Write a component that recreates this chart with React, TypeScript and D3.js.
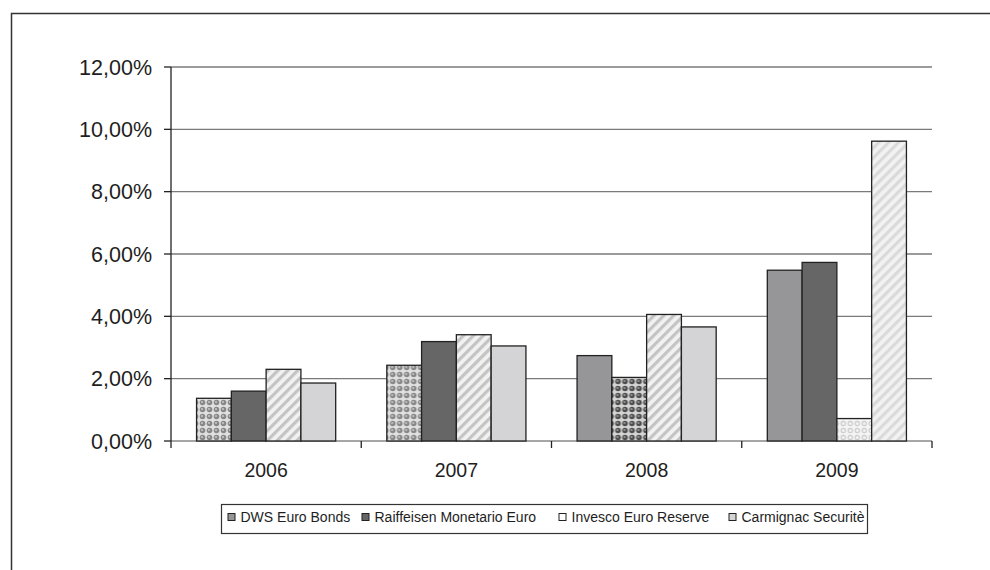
import React from "react";
import * as d3 from "d3";

const categories = ["2006", "2007", "2008", "2009"];
const seriesNames = ["DWS Euro Bonds", "Raiffeisen Monetario Euro", "Invesco Euro Reserve", "Carmignac Securitè"];
const dwsValues = [1.37, 2.43, 2.74, 5.48];
const raiffeisenValues = [1.6, 3.19, 2.04, 5.73];
const invescoValues = [2.3, 3.41, 4.06, 0.72];
const carmignacValues = [1.86, 3.05, 3.66, 9.62];
const yTicks = [0, 2, 4, 6, 8, 10, 12];

const seriesValues = [dwsValues, raiffeisenValues, invescoValues, carmignacValues];

// fills per category (rows) and series (cols)
const barFills = [
  ["url(#dotsLight)", "#666666", "url(#stripe)", "#d4d4d6"],
  ["url(#dotsLight)", "#666666", "url(#stripe)", "#d4d4d6"],
  ["#969698", "url(#dotsDark)", "url(#stripe)", "#d4d4d6"],
  ["#969698", "#666666", "url(#dotsWhite)", "url(#stripeLight)"],
];
const legendFills = ["#969698", "#666666", "#ffffff", "#d4d4d6"];
const legendSwatchX = [228, 362, 559, 729];

const W = 990;
const H = 570;
const plotLeft = 171;
const plotRight = 932;
const plotTop = 67;
const plotBottom = 441;

export default function App() {
  const x0 = d3.scaleBand().domain(categories).range([plotLeft, plotRight]).paddingInner(0).paddingOuter(0);
  const x1 = d3
    .scaleBand()
    .domain(seriesNames)
    .range([0, x0.bandwidth()])
    .paddingOuter(0.735)
    .paddingInner(0);
  const y = d3.scaleLinear().domain([0, 12]).range([plotBottom, plotTop]);
  const fmt = (v: number) => v.toFixed(2).replace(".", ",") + "%";
  const font = "'Liberation Sans', Arial, sans-serif";

  return (
    <svg width={W} height={H} style={{ position: "absolute", left: 0, top: 0 }} fontFamily={font}>
      <defs>
        <pattern id="dotsLight" width="7" height="7" patternUnits="userSpaceOnUse">
          <rect width="7" height="7" fill="#e0e0e0" />
          <circle cx="3.5" cy="3.5" r="2.8" fill="#888888" />
          <circle cx="3" cy="3" r="1.1" fill="#c4c4c4" />
        </pattern>
        <pattern id="dotsDark" width="7" height="7" patternUnits="userSpaceOnUse">
          <rect width="7" height="7" fill="#d4d4d4" />
          <circle cx="3.5" cy="3.5" r="2.8" fill="#4e4e4e" />
          <circle cx="3" cy="3" r="1.1" fill="#999999" />
        </pattern>
        <pattern id="dotsWhite" width="7" height="7" patternUnits="userSpaceOnUse">
          <rect width="7" height="7" fill="#f4f4f4" />
          <circle cx="3.5" cy="3.5" r="2.7" fill="#cccccc" />
          <circle cx="3.5" cy="3.5" r="1.5" fill="#f4f4f4" />
        </pattern>
        <pattern id="stripe" width="7" height="7" patternUnits="userSpaceOnUse" patternTransform="rotate(45)">
          <rect width="7" height="7" fill="#f2f2f2" />
          <rect width="3.2" height="7" fill="#c4c4c4" />
        </pattern>
        <pattern id="stripeLight" width="7" height="7" patternUnits="userSpaceOnUse" patternTransform="rotate(45)">
          <rect width="7" height="7" fill="#f2f2f2" />
          <rect width="3.2" height="7" fill="#dadada" />
        </pattern>
      </defs>
      <rect x={0} y={0} width={W} height={H} fill="#ffffff" />
      {/* outer frame */}
      <rect x={11.5} y={13.5} width={W + 10} height={H + 10} fill="none" stroke="#333" strokeWidth={1.5} />

      {/* gridlines */}
      {yTicks.map((t) => (
        <line key={"g" + t} x1={plotLeft} x2={plotRight} y1={y(t)} y2={y(t)} stroke={t === 0 ? "#888" : "#7a7a7a"} strokeWidth={1.3} />
      ))}

      {/* bars */}
      {categories.map((c, ci) => (
        <g key={c} transform={`translate(${x0(c)},0)`}>
          {seriesNames.map((s, si) => {
            const v = seriesValues[si][ci];
            return (
              <rect
                key={s}
                x={x1(s)}
                y={y(v)}
                width={x1.bandwidth()}
                height={plotBottom - y(v)}
                fill={barFills[ci][si]}
                stroke="#222"
                strokeWidth={1.3}
              />
            );
          })}
        </g>
      ))}

      {/* y axis */}
      <line x1={plotLeft} x2={plotLeft} y1={plotTop} y2={plotBottom} stroke="#222" strokeWidth={1.3} />
      {yTicks.map((t) => (
        <g key={"yt" + t}>
          <line x1={plotLeft - 7} x2={plotLeft} y1={y(t)} y2={y(t)} stroke="#222" strokeWidth={1.3} />
          <text x={152} y={y(t)} dy="0.36em" textAnchor="end" fontSize={21.5} fill="#1e1e1e">
            {fmt(t)}
          </text>
        </g>
      ))}

      {/* x axis ticks */}
      {[...categories.map((c) => x0(c) as number), plotRight].map((xv, i) => (
        <line key={"xt" + i} x1={xv} x2={xv} y1={plotBottom} y2={plotBottom + 7} stroke="#222" strokeWidth={1.3} />
      ))}
      {categories.map((c) => (
        <text key={"xl" + c} x={(x0(c) as number) + x0.bandwidth() / 2} y={470} dy="0.36em" textAnchor="middle" fontSize={19.5} fill="#1e1e1e">
          {c}
        </text>
      ))}

      {/* legend */}
      <rect x={221.5} y={504.5} width={646} height={29} fill="#fff" stroke="#333" strokeWidth={1.2} />
      {seriesNames.map((s, i) => (
        <g key={"lg" + s}>
          <rect x={legendSwatchX[i]} y={513.5} width={7} height={7} fill={legendFills[i]} stroke="#222" strokeWidth={1} />
          <text x={legendSwatchX[i] + 12.5} y={517} dy="0.36em" fontSize={14} fill="#1e1e1e">
            {s}
          </text>
        </g>
      ))}
    </svg>
  );
}
